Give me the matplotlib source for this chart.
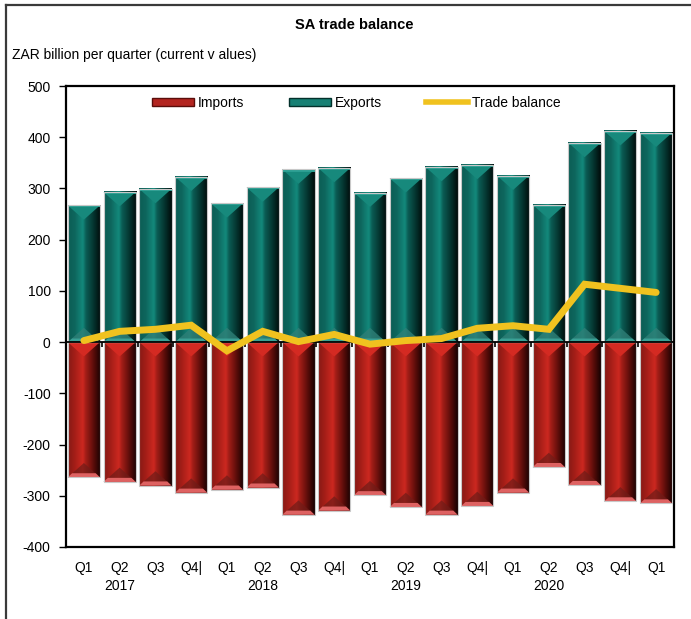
import matplotlib
matplotlib.use('Agg')
import matplotlib.pyplot as plt
import numpy as np
from matplotlib.colors import LinearSegmentedColormap
from matplotlib.patches import Polygon, Patch
from matplotlib.lines import Line2D

# data (ZAR billion per quarter)
quarters = ['Q1', 'Q2', 'Q3', 'Q4|', 'Q1', 'Q2', 'Q3', 'Q4|', 'Q1',
            'Q2', 'Q3', 'Q4|', 'Q1', 'Q2', 'Q3', 'Q4|', 'Q1']
years = {1: '2017', 5: '2018', 9: '2019', 13: '2020'}
exports = [267, 293, 299, 323, 271, 302, 337, 340, 292,
           320, 342, 346, 325, 268, 389, 412, 409]
imports = [-264, -273, -280, -294, -288, -284, -337, -329, -299,
           -322, -337, -320, -294, -244, -279, -311, -315]
balance = [3, 21, 25, 33, -17, 21, 1, 15, -4,
           3, 7, 27, 32, 25, 113, 105, 97]

plt.rcParams['font.family'] = ['Liberation Sans Narrow', 'Liberation Sans', 'DejaVu Sans']
plt.rcParams['font.size'] = 10
plt.rcParams['axes.unicode_minus'] = False

exp_cmap = LinearSegmentedColormap.from_list('exp', [
    (0.0, '#0c5d55'), (0.2, '#0e665d'), (0.45, '#13897c'),
    (0.55, '#0b5c54'), (0.8, '#04312c'), (1.0, '#010b0a')])
imp_cmap = LinearSegmentedColormap.from_list('imp', [
    (0.0, '#861a15'), (0.2, '#a41e18'), (0.45, '#cc2820'),
    (0.55, '#a01d17'), (0.8, '#560c09'), (1.0, '#170202')])
grad = np.linspace(0, 1, 64).reshape(1, -1)

fig = plt.figure(figsize=(6.91, 6.19), dpi=100)
ax = fig.add_axes([66 / 691, 1 - 547 / 619, 608 / 691, 461 / 619])

x = np.arange(len(quarters))
width = 0.9
bev = 28

exp_bars = ax.bar(x, exports, width=width, color='none', edgecolor='#c8c8c8', linewidth=0.8, zorder=4)
imp_bars = ax.bar(x, imports, width=width, color='none', edgecolor='#c8c8c8', linewidth=0.8, zorder=4)

def shade(bars, cmap, up):
    for b in bars:
        x0 = b.get_x()
        x1 = x0 + b.get_width()
        xc = (x0 + x1) / 2
        y0 = b.get_y()
        y1 = y0 + b.get_height()
        lo, hi = min(y0, y1), max(y0, y1)
        ax.imshow(grad, extent=(x0, x1, lo, hi), aspect='auto', cmap=cmap, zorder=2)
        if up:
            # top cap and base bevel of export bars
            ax.add_patch(Polygon([(x0, hi), (x1, hi), (xc, hi - bev)], closed=True,
                                 facecolor='#17897c', edgecolor='none', zorder=3))
            ax.add_patch(Polygon([(x0, hi), (x1, hi), (x1, hi - 4), (x0, hi - 4)], closed=True,
                                 facecolor='#2b9e92', edgecolor='none', zorder=3))
            ax.add_patch(Polygon([(x0, 0), (x1, 0), (xc, bev)], closed=True,
                                 facecolor='#2f7f77', alpha=0.8, edgecolor='none', zorder=3))
            ax.add_patch(Polygon([(x0, 0), (x1, 0), (x1 - 0.12, 7), (x0 + 0.12, 7)], closed=True,
                                 facecolor='#3aa196', edgecolor='none', zorder=3))
        else:
            ax.add_patch(Polygon([(x0, 0), (x1, 0), (xc, -bev)], closed=True,
                                 facecolor='#d42a22', edgecolor='none', zorder=3))
            ax.add_patch(Polygon([(x0, lo), (x1, lo), (xc, lo + bev)], closed=True,
                                 facecolor='#6e1c18', alpha=0.7, edgecolor='none', zorder=3))
            ax.add_patch(Polygon([(x0, lo), (x1, lo), (x1 - 0.12, lo + 8), (x0 + 0.12, lo + 8)], closed=True,
                                 facecolor='#de6262', edgecolor='none', zorder=3))

shade(exp_bars, exp_cmap, True)
shade(imp_bars, imp_cmap, False)

ax.plot(x, balance, color='#f0c21f', lw=5, solid_capstyle='round', solid_joinstyle='miter', zorder=6)

ax.axhline(0, color='black', lw=1.3, zorder=5)
ax.vlines(x[:-1] + 0.5, -9, 0, color='black', lw=1.2, zorder=5)

ax.set_xlim(-0.5, len(quarters) - 0.5)
ax.set_ylim(-400, 500)
ax.set_yticks(np.arange(-400, 501, 100))
ax.tick_params(axis='y', length=5, width=1, pad=6, labelsize=10)

labels = [q + ('\n' + years[i] if i in years else '') for i, q in enumerate(quarters)]
ax.set_xticks(x)
ax.set_xticklabels(labels, linespacing=1.35, va='top')
ax.tick_params(axis='x', length=0, pad=10, labelsize=10)

for s in ax.spines.values():
    s.set_linewidth(1.6)
    s.set_color('black')

handles = [Patch(facecolor='#b32520', edgecolor='#5a0d0a', label='Imports'),
           Patch(facecolor='#178074', edgecolor='#03302b', label='Exports'),
           Line2D([0], [0], color='#f0c21f', lw=4, label='Trade balance')]
ax.legend(handles=handles, loc='upper center', bbox_to_anchor=(0.478, 1.0), ncol=3,
          frameon=False, handlelength=3.0, handleheight=0.45, handletextpad=0.3,
          columnspacing=3.2, fontsize=10, borderaxespad=0.3)

fig.text(0.512, 1 - 25 / 619, 'SA trade balance', ha='center', va='center',
         fontsize=10.5, fontweight='bold')
fig.text(12 / 691, 1 - 55 / 619, 'ZAR billion per quarter (current v alues)',
         ha='left', va='center', fontsize=10)

# outer chart frame (top and left edges visible)
fig.add_artist(Line2D([6 / 691, 6 / 691], [0, 1 - 5 / 619], transform=fig.transFigure, color='#3a3a3a', lw=1.6))
fig.add_artist(Line2D([6 / 691, 1], [1 - 5 / 619, 1 - 5 / 619], transform=fig.transFigure, color='#3a3a3a', lw=1.6))

plt.savefig('out.png', dpi=100)
